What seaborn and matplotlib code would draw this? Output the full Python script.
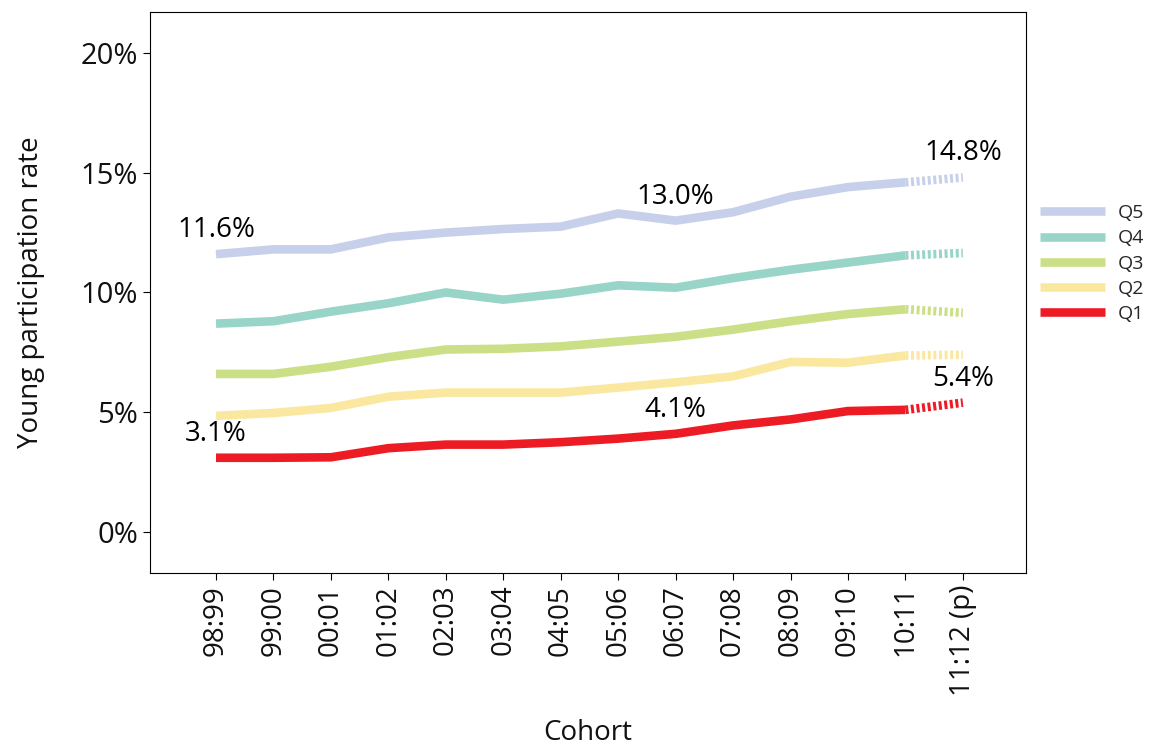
import pandas as pd
import numpy as np
import matplotlib
matplotlib.use("Agg")
import matplotlib.pyplot as plt
import seaborn as sns
from matplotlib.lines import Line2D

cohorts = ["98:99", "99:00", "00:01", "01:02", "02:03", "03:04", "04:05",
           "05:06", "06:07", "07:08", "08:09", "09:10", "10:11", "11:12 (p)"]

q5 = [11.6, 11.8, 11.8, 12.3, 12.5, 12.65, 12.75, 13.3, 13.0, 13.35, 14.0, 14.4, 14.6, 14.8]
q4 = [8.7, 8.8, 9.2, 9.55, 10.0, 9.7, 9.95, 10.3, 10.2, 10.6, 10.95, 11.25, 11.55, 11.65]
q3 = [6.6, 6.6, 6.9, 7.3, 7.62, 7.65, 7.75, 7.95, 8.15, 8.45, 8.8, 9.1, 9.3, 9.15]
q2 = [4.85, 4.97, 5.18, 5.65, 5.82, 5.82, 5.82, 6.03, 6.25, 6.5, 7.1, 7.07, 7.37, 7.4]
q1 = [3.1, 3.1, 3.12, 3.5, 3.65, 3.65, 3.75, 3.9, 4.1, 4.45, 4.7, 5.05, 5.1, 5.4]

quintiles = ["Q5", "Q4", "Q3", "Q2", "Q1"]
colors = ["#c7d0ea", "#98d5c8", "#cbdf86", "#fbe8a0", "#ed1c24"]
labels = [("Q5", 0, "11.6%"), ("Q5", 8, "13.0%"), ("Q5", 13, "14.8%"),
          ("Q1", 0, "3.1%"), ("Q1", 8, "4.1%"), ("Q1", 13, "5.4%")]

series = dict(zip(quintiles, [q5, q4, q3, q2, q1]))
rows = []
for q, vals in series.items():
    for i, v in enumerate(vals):
        rows.append({"pos": i, "cohort": cohorts[i], "quintile": q, "rate": v})
df = pd.DataFrame(rows)
last = len(cohorts) - 1
solid = df[df["pos"] < last]
proj = df[df["pos"] >= last - 1]

sns.set_theme(style="ticks")
plt.rcParams["font.family"] = ["Open Sans", "DejaVu Sans"]

fig = plt.figure(figsize=(11.49, 7.49), dpi=100)
ax = fig.add_axes([0.1305, 0.235, 0.7625, 0.749])

palette = dict(zip(quintiles, colors))
sns.lineplot(data=solid, x="pos", y="rate", hue="quintile", hue_order=quintiles[::-1],
             palette=palette, linewidth=6.2, legend=False, ax=ax,
             solid_capstyle="butt")
sns.lineplot(data=proj, x="pos", y="rate", hue="quintile", hue_order=quintiles[::-1],
             palette=palette, linewidth=6.2, legend=False, ax=ax,
             dashes=False)
for line in ax.lines[len(quintiles):]:
    line.set_linestyle((0, (0.35, 0.3)))
    line.set_dash_capstyle("butt")

for q, i, txt in labels:
    ax.text(i, series[q][i] + 0.42, txt, ha="center", va="bottom",
            fontsize=20, color="black")

ax.set_xlim(-1.15, 14.1)
ax.set_ylim(-1.71, 21.71)
ax.set_xticks(range(len(cohorts)))
ax.set_xticklabels(cohorts, rotation=90, fontsize=20)
ax.set_yticks([0, 5, 10, 15, 20])
ax.set_yticklabels(["0%", "5%", "10%", "15%", "20%"], fontsize=21)
ax.tick_params(direction="out", length=5, width=0.8, color="black", labelcolor="#111111")
for s in ax.spines.values():
    s.set_visible(True)
    s.set_color("black")
    s.set_linewidth(0.8)
ax.set_xlabel("Cohort", fontsize=20, color="#111111", labelpad=16)
ax.set_ylabel("Young participation rate", fontsize=20, color="#111111", labelpad=26)

handles = [Line2D([0], [0], color=c, lw=6.2, solid_capstyle="butt") for c in colors]
fig.legend(handles, quintiles, loc="center left", bbox_to_anchor=(0.905, 0.648),
           frameon=False, fontsize=14, handlelength=3.35, handletextpad=0.65,
           labelspacing=0.37, borderpad=0, borderaxespad=0)

fig.savefig("out.png", dpi=100)
